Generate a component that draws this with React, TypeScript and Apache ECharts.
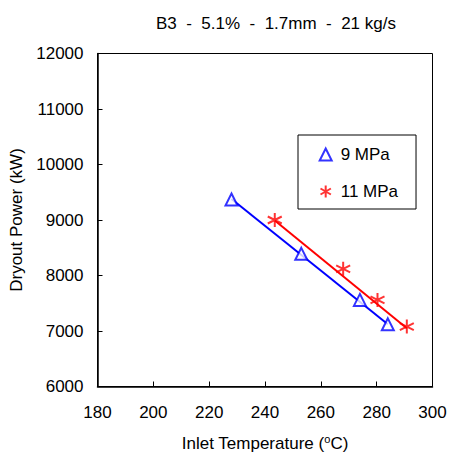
import React, { useEffect, useRef } from "react";
import * as echarts from "echarts";

const titleText = "B3  -  5.1%  -  1.7mm  -  21 kg/s";
const xTicks = [180, 300, 20];
const yTicks = [6000, 12000, 1000];

const temp9 = [228, 253, 274, 284];
const power9 = [9370, 8390, 7560, 7120];
const temp11 = [243.5, 268, 280.3, 290.8];
const power11 = [9000, 8120, 7560, 7080];

// trend line end points
const trend9X = [228, 284];
const trend9Y = [9380, 7120];
const trend11X = [243.5, 290.8];
const trend11Y = [8990, 7050];

const names = ["9 MPa", "11 MPa"];
const FONT = "Liberation Sans, Arial, sans-serif";
const STAR = "path://M5,0L5,10M0.67,2.5L9.33,7.5M0.67,7.5L9.33,2.5";

export default function App() {
  const ref = useRef<HTMLDivElement>(null);
  useEffect(() => {
    document.body.style.margin = "0";
    const chart = echarts.init(ref.current!, null, { renderer: "svg" });
    const zip = (a: number[], b: number[]) => a.map((v, i) => [v, b[i]]);
    chart.setOption({
      animation: false,
      backgroundColor: "#fff",
      textStyle: { fontFamily: FONT, color: "#000" },
      title: {
        text: titleText,
        left: 151,
        top: 10,
        textStyle: { fontSize: 17, fontWeight: "normal", color: "#000", fontFamily: FONT },
      },
      grid: {
        left: 97.5,
        top: 53.5,
        width: 335,
        height: 335.5,
        show: true,
        borderColor: "#000",
        borderWidth: 1,
      },
      legend: {
        data: [
          { name: names[0], icon: "emptyTriangle" },
          { name: names[1], icon: STAR },
        ],
        orient: "vertical",
        left: 298,
        top: 135,
        itemWidth: 12,
        itemHeight: 12,
        itemGap: 20,
        padding: [11, 18, 9, 20],
        borderColor: "#000",
        borderWidth: 1,
        backgroundColor: "#fff",
        textStyle: { fontSize: 17, color: "#000", fontFamily: FONT, padding: [0, 0, 0, 4] },
      },
      xAxis: {
        type: "value",
        min: xTicks[0],
        max: xTicks[1],
        interval: xTicks[2],
        name: "{a|Inlet Temperature (}{s|o}{a|C)}",
        nameLocation: "middle",
        nameGap: 47,
        nameTextStyle: {
          rich: {
            a: { fontSize: 17, color: "#000", fontFamily: FONT },
            s: { fontSize: 11, color: "#000", fontFamily: FONT, padding: [0, 0, 9, 0] },
          },
        },
        axisLine: { lineStyle: { color: "#000", width: 1.5 } },
        axisTick: { inside: true, length: 5, lineStyle: { color: "#000" } },
        axisLabel: { fontSize: 17, color: "#000", margin: 17, fontFamily: FONT },
        splitLine: { show: false },
      },
      yAxis: {
        type: "value",
        min: yTicks[0],
        max: yTicks[1],
        interval: yTicks[2],
        name: "Dryout Power (kW)",
        nameLocation: "middle",
        nameGap: 66,
        nameTextStyle: { fontSize: 17, color: "#000", fontFamily: FONT },
        axisLine: { lineStyle: { color: "#000", width: 1.5 } },
        axisTick: { inside: true, length: 5, lineStyle: { color: "#000" } },
        axisLabel: {
          fontSize: 17,
          color: "#000",
          margin: 14,
          fontFamily: FONT,
          formatter: (v: number) => String(v),
        },
        splitLine: { show: false },
      },
      series: [
        {
          name: "trend9",
          type: "line",
          data: zip(trend9X, trend9Y),
          symbol: "none",
          lineStyle: { color: "#0000ff", width: 2 },
          z: 1,
        },
        {
          name: "trend11",
          type: "line",
          data: zip(trend11X, trend11Y),
          symbol: "none",
          lineStyle: { color: "#ff0000", width: 2 },
          z: 1,
        },
        {
          name: names[0],
          type: "scatter",
          data: zip(temp9, power9),
          symbol: "emptyTriangle",
          symbolSize: 12,
          itemStyle: { color: "#0000ff", borderColor: "#0000ff", borderWidth: 2 },
          z: 3,
        },
        {
          name: names[1],
          type: "scatter",
          data: zip(temp11, power11),
          symbol: STAR,
          symbolSize: 14,
          itemStyle: { color: "none", borderColor: "#ff0000", borderWidth: 2 },
          z: 3,
        },
      ],
    });
    return () => chart.dispose();
  }, []);
  return <div ref={ref} style={{ width: 451, height: 457 }} />;
}
